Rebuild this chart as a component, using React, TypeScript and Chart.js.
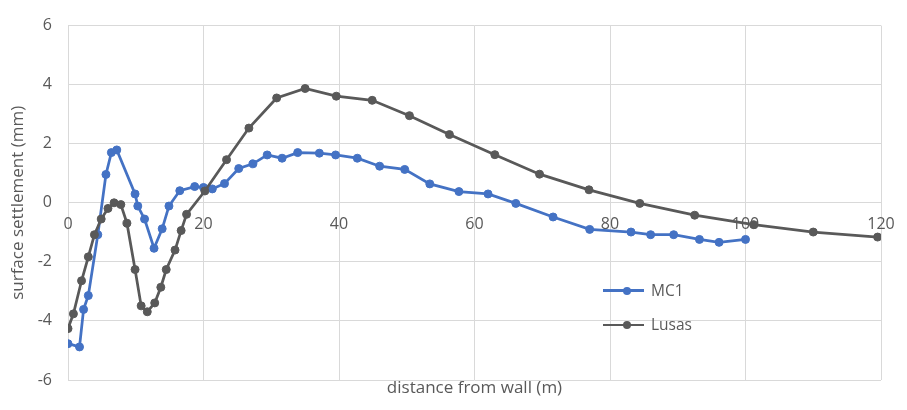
import React, { useEffect, useRef } from "react";
import { Chart, registerables } from "chart.js";

Chart.register(...registerables);

// ---- data ----
const mc1X = [0, 1.7, 2.3, 3.0, 4.4, 5.6, 6.4, 7.2, 9.9, 10.3, 11.3, 12.7, 13.9, 14.9, 16.5, 18.7, 20.0, 21.3, 23.1, 25.2, 27.3, 29.4, 31.6, 33.9, 37.1, 39.5, 42.7, 46.0, 49.7, 53.4, 57.7, 62.0, 66.1, 71.6, 77.0, 83.1, 86.0, 89.4, 93.2, 96.1, 100];
const mc1Y = [-4.77, -4.88, -3.61, -3.14, -1.08, 0.96, 1.7, 1.79, 0.3, -0.11, -0.55, -1.54, -0.88, -0.11, 0.41, 0.55, 0.52, 0.47, 0.65, 1.16, 1.32, 1.62, 1.51, 1.7, 1.68, 1.62, 1.51, 1.24, 1.13, 0.64, 0.38, 0.3, -0.02, -0.48, -0.9, -0.99, -1.08, -1.08, -1.24, -1.34, -1.24];

const lusasX = [0, 0.8, 2.0, 3.0, 3.9, 4.9, 5.9, 6.8, 7.8, 8.7, 9.9, 10.8, 11.7, 12.8, 13.7, 14.5, 15.8, 16.7, 17.5, 20.2, 23.4, 26.7, 30.8, 35.0, 39.6, 44.9, 50.4, 56.3, 63.0, 69.6, 76.9, 84.4, 92.5, 101.2, 110, 119.5];
const lusasY = [-4.26, -3.76, -2.64, -1.83, -1.08, -0.55, -0.19, 0.0, -0.06, -0.69, -2.26, -3.49, -3.69, -3.39, -2.86, -2.26, -1.6, -0.94, -0.39, 0.4, 1.46, 2.53, 3.55, 3.87, 3.61, 3.47, 2.95, 2.31, 1.63, 0.97, 0.44, -0.02, -0.42, -0.74, -0.99, -1.16];

const seriesLabels = ["MC1", "Lusas"];
const xRange = [0, 120];
const xStep = 20;
const yRange = [-6, 6];
const yStep = 2;
const xTitle = "distance from wall (m)";
const yTitle = "surface settlement (mm)";

const BLUE = "#4472C4";
const GRAY = "#595959";
const TEXT = "#595959";
const GRID = "#d9d9d9";
const FONT = "'Open Sans', Lato, sans-serif";

export default function App() {
  const ref = useRef<HTMLCanvasElement | null>(null);

  useEffect(() => {
    if (!ref.current) return;
    Chart.defaults.font.family = FONT;
    const mk = (xs: number[], ys: number[]) => xs.map((x, i) => ({ x, y: ys[i] }));
    const chart = new Chart(ref.current, {
      type: "scatter",
      data: {
        datasets: [
          {
            label: seriesLabels[0],
            data: mk(mc1X, mc1Y),
            showLine: true,
            borderColor: BLUE,
            backgroundColor: BLUE,
            borderWidth: 2.75,
            pointRadius: 4,
            pointBorderWidth: 1,
            order: 1,
          },
          {
            label: seriesLabels[1],
            data: mk(lusasX, lusasY),
            showLine: true,
            borderColor: GRAY,
            backgroundColor: GRAY,
            borderWidth: 2.75,
            pointRadius: 4,
            pointBorderWidth: 1,
            order: 0,
          },
        ],
      },
      options: {
        animation: false,
        responsive: true,
        maintainAspectRatio: false,
        layout: { padding: { left: 0, top: 17, right: 26, bottom: 0 } },
        plugins: { legend: { display: false }, tooltip: { enabled: false } },
        scales: {
          x: {
            type: "linear",
            position: { y: 0 } as any,
            min: xRange[0],
            max: xRange[1],
            ticks: { stepSize: xStep, padding: 12, color: TEXT, font: { size: 16 } },
            grid: { color: GRID, drawTicks: false },
            border: { display: false },
          },
          x2: {
            type: "linear",
            position: "bottom",
            min: xRange[0],
            max: xRange[1],
            ticks: { display: false },
            grid: { display: false, drawTicks: false },
            border: { display: false },
            title: {
              display: true,
              text: xTitle,
              color: TEXT,
              font: { size: 17 },
              padding: { top: 0, bottom: 12 },
            },
            afterFit: (s: any) => {
              s.height = 30;
            },
          },
          y: {
            type: "linear",
            position: "left",
            min: yRange[0],
            max: yRange[1],
            ticks: { stepSize: yStep, padding: 16, color: TEXT, font: { size: 16 } },
            grid: { color: GRID, drawTicks: false },
            border: { display: false },
            title: {
              display: true,
              text: yTitle,
              color: TEXT,
              font: { size: 17 },
              padding: { top: 8, bottom: 0 },
            },
            afterFit: (s: any) => {
              s.width = 68;
            },
          },
        } as any,
      },
    });
    return () => chart.destroy();
  }, []);

  const legend = [
    { label: seriesLabels[0], color: BLUE, top: 290.5 },
    { label: seriesLabels[1], color: GRAY, top: 325 },
  ];

  return (
    <div style={{ position: "absolute", left: 0, top: 0, width: 907, height: 410, background: "#fff" }}>
      <canvas ref={ref} />
      {legend.map((it) => (
        <div key={it.label}>
          <div
            style={{
              position: "absolute",
              left: 603,
              top: it.top - 1.25,
              width: 41,
              height: 2.5,
              background: it.color,
            }}
          />
          <div
            style={{
              position: "absolute",
              left: 623,
              top: it.top - 4,
              width: 8,
              height: 8,
              borderRadius: "50%",
              background: it.color,
            }}
          />
          <div
            style={{
              position: "absolute",
              left: 651,
              top: it.top - 11,
              height: 20,
              lineHeight: "20px",
              fontFamily: FONT,
              fontSize: 15.5,
              color: TEXT,
              whiteSpace: "nowrap",
            }}
          >
            {it.label}
          </div>
        </div>
      ))}
    </div>
  );
}
